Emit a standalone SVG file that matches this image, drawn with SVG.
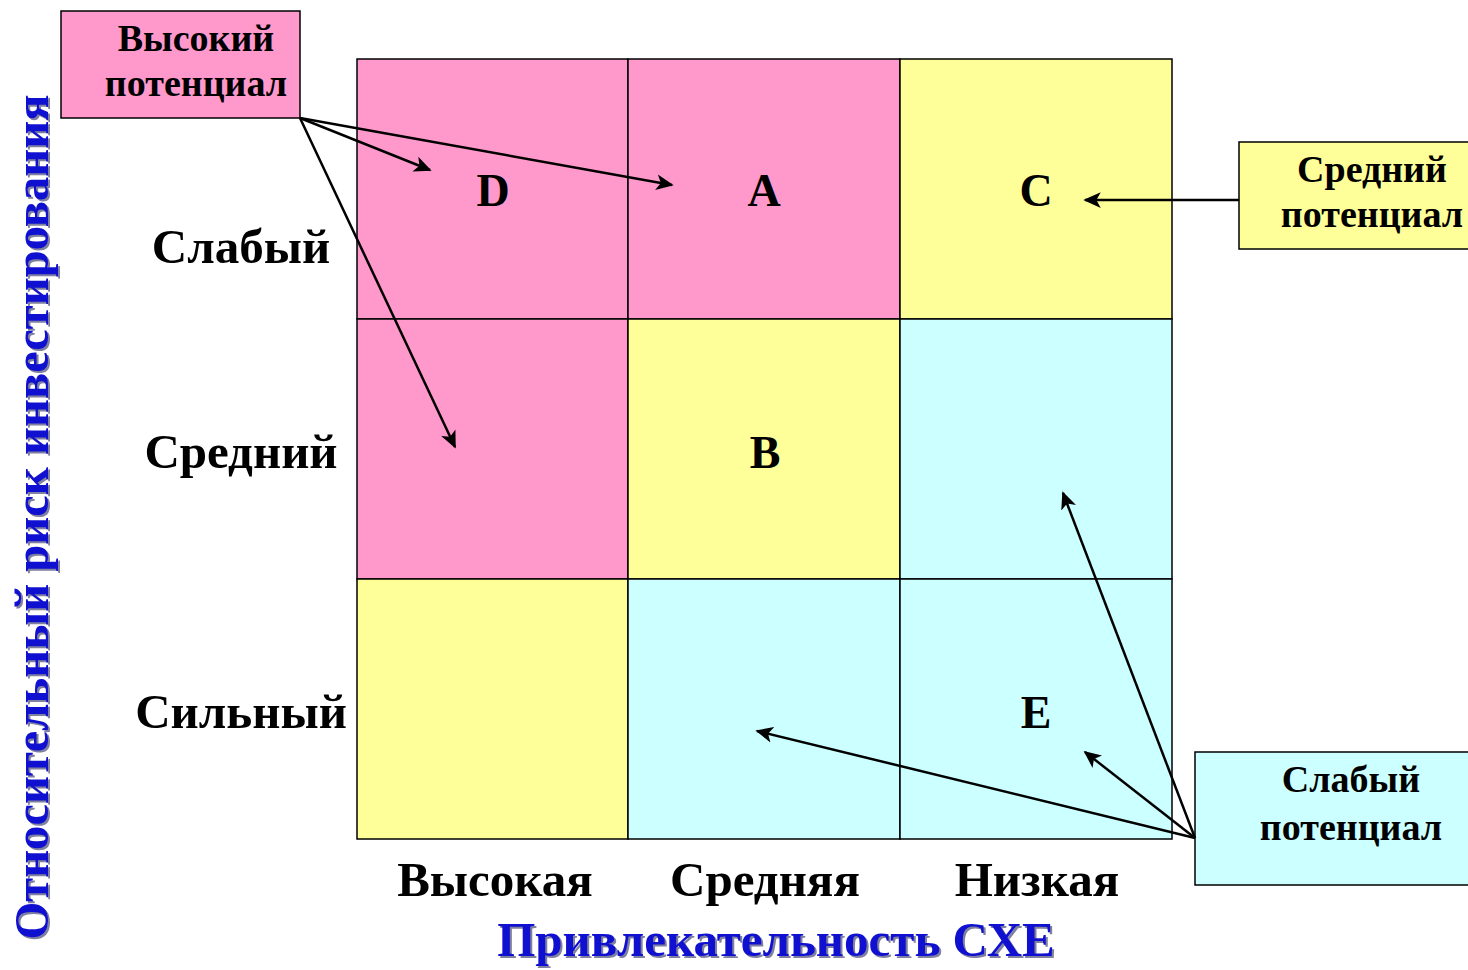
<svg xmlns="http://www.w3.org/2000/svg" width="1468" height="970" viewBox="0 0 1468 970">
<style>
.t{font-family:"Liberation Serif","Times New Roman",serif;font-weight:bold;fill:#000;text-anchor:middle}
.bx{font-size:38px}
.big{font-size:49px}
.lt{font-size:46px}
.ax{font-family:"Liberation Serif","Times New Roman",serif;font-weight:bold;fill:#1010d0;font-size:49px;text-anchor:middle}
.axs{font-family:"Liberation Serif","Times New Roman",serif;font-weight:bold;fill:#8080a0;font-size:49px;text-anchor:middle}
.cell{stroke:#000;stroke-width:1.5}
.pk{fill:#FF99CC}.yl{fill:#FFFF99}.cy{fill:#CCFFFF}
.c{stroke:#000;stroke-width:2.5;fill:none;marker-end:url(#ah)}
</style>
<defs>
<marker id="ah" viewBox="0 0 10 10" refX="9" refY="5" markerWidth="7" markerHeight="7" markerUnits="strokeWidth" orient="auto">
<path d="M0,0.5 L10,5 L0,9.5 L2.5,5 z" fill="#000"/>
</marker>
</defs>
<rect width="1468" height="970" fill="#fff"/>
<g id="grid">
<rect class="cell pk" x="357" y="59" width="271" height="260"/>
<rect class="cell pk" x="628" y="59" width="272" height="260"/>
<rect class="cell yl" x="900" y="59" width="272" height="260"/>
<rect class="cell pk" x="357" y="319" width="271" height="260"/>
<rect class="cell yl" x="628" y="319" width="272" height="260"/>
<rect class="cell cy" x="900" y="319" width="272" height="260"/>
<rect class="cell yl" x="357" y="579" width="271" height="260"/>
<rect class="cell cy" x="628" y="579" width="272" height="260"/>
<rect class="cell cy" x="900" y="579" width="272" height="260"/>
<text class="t lt" x="493" y="206">D</text>
<text class="t lt" x="764" y="206">A</text>
<text class="t lt" x="1036" y="206">C</text>
<text class="t lt" x="765" y="468">B</text>
<text class="t lt" x="1036" y="728">E</text>
</g>
<g id="row-labels">
<text class="t big" x="241" y="263">Слабый</text>
<text class="t big" x="241" y="468">Средний</text>
<text class="t big" x="241" y="728">Сильный</text>
</g>
<g id="col-labels">
<text class="t big" x="495" y="896">Высокая</text>
<text class="t big" x="765" y="896">Средняя</text>
<text class="t big" x="1037" y="896">Низкая</text>
</g>
<g id="axis-x">
<text class="axs" x="778" y="958">Привлекательность СХЕ</text>
<text class="ax" x="776" y="956">Привлекательность СХЕ</text>
</g>
<g id="axis-y">
<text class="axs" transform="translate(50,519) rotate(-90)" textLength="845" lengthAdjust="spacingAndGlyphs">Относительный риск инвестирования</text>
<text class="ax" transform="translate(48,517) rotate(-90)" textLength="845" lengthAdjust="spacingAndGlyphs">Относительный риск инвестирования</text>
</g>
<g id="high">
<rect x="61" y="11" width="239" height="107" fill="#FF99CC" stroke="#000" stroke-width="1.5"/>
<text class="t bx" x="196" y="51">Высокий</text>
<text class="t bx" x="196" y="96">потенциал</text>
</g>
<g id="mid">
<rect x="1239" y="142" width="235" height="107" fill="#FFFF99" stroke="#000" stroke-width="1.5"/>
<text class="t bx" x="1372" y="182">Средний</text>
<text class="t bx" x="1372" y="227">потенциал</text>
</g>
<g id="weak">
<rect x="1195" y="752" width="280" height="133" fill="#CCFFFF" stroke="#000" stroke-width="1.5"/>
<text class="t bx" x="1351" y="792">Слабый</text>
<text class="t bx" x="1351" y="840">потенциал</text>
</g>
<g id="connectors">
<line class="c" x1="300" y1="118" x2="430" y2="170"/>
<line class="c" x1="300" y1="118" x2="672" y2="185"/>
<line class="c" x1="300" y1="118" x2="455" y2="447"/>
<line class="c" x1="1239" y1="200" x2="1085" y2="200"/>
<line class="c" x1="1195" y1="838" x2="1063" y2="493"/>
<line class="c" x1="1195" y1="838" x2="1085" y2="752"/>
<line class="c" x1="1195" y1="838" x2="757" y2="731"/>
</g>
</svg>
